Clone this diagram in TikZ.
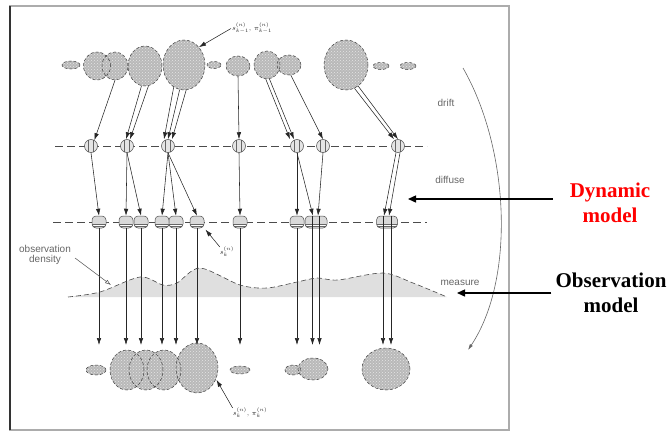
\documentclass[tikz,border=0pt]{standalone}
\usepackage{amsmath}
\usepackage{fontspec}
\setmainfont{Liberation Serif}
\newfontfamily\sansf{Liberation Sans}
\usetikzlibrary{arrows.meta,shapes.geometric,patterns}

\begin{document}
\begin{tikzpicture}[x=1pt,y=-1pt,
  arr/.style={-{Latex[length=7pt,width=4.5pt]},black!85,line width=0.55pt},
  bigarr/.style={-{Triangle[length=8pt,width=7pt]},black,line width=1.4pt},
  blob/.style={ellipse,inner sep=0pt,fill=gray!55,postaction={pattern=crosshatch dots,pattern color=white!80!gray}},
  rim/.style={ellipse,inner sep=0pt,draw=black!75,densely dashed,line width=0.5pt},
  dashrow/.style={black!70,line width=0.5pt,dash pattern=on 8pt off 4pt},
  densline/.style={black!70,line width=0.6pt,dash pattern=on 5pt off 3pt},
  driftpt/.style={circle,draw=black!70,fill=gray!20,minimum size=13pt,inner sep=0pt,line width=0.5pt,
    path picture={\foreach \dx in {-2.5,2.5}
      \draw[black!60,line width=0.4pt] ([xshift=\dx pt]path picture bounding box.north) -- ([xshift=\dx pt]path picture bounding box.south);}},
  diffpt/.style={rectangle,rounded corners=4pt,draw=black!70,fill=gray!30,minimum width=14pt,minimum height=12pt,inner sep=0pt,line width=0.5pt,
    path picture={\fill[white] ([yshift=-2pt]path picture bounding box.west) rectangle ([yshift=-4.5pt]path picture bounding box.east);
      \draw[black!60,line width=0.4pt] ([yshift=-2pt]path picture bounding box.west) -- ([yshift=-2pt]path picture bounding box.east)
        ([yshift=-4.5pt]path picture bounding box.west) -- ([yshift=-4.5pt]path picture bounding box.east);}},
  steplbl/.style={font=\sansf\fontsize{10}{10}\selectfont,text=black!60,inner sep=0pt},
  mathlbl/.style={font=\fontsize{7}{8}\selectfont,text=black!85,inner sep=0pt},
  bigtxt/.style={font=\fontsize{21}{24.5}\selectfont\bfseries,align=center,inner sep=0pt}]

  \useasboundingbox (0,0) rectangle (672,431);
  \draw[gray!65,line width=1.2pt] (10,6) rectangle (509,430);
  \draw[black!80,line width=1.8pt] (10,6) -- (10,430);

  \def\toprow{e1/71/65/9/4, c1/97/66/13.5/14, c2/115/66/13/14, c3/145/66/17/20, c4/184/65/21/25,
    e2/214/65/7/3.5, c5/238/66/12/10, c6/267/65/13/14, c7/289/65/12/10, c8/346/65/22/25,
    e3/381/66/8/3.5, e4/408/66/8/3.5}
  \def\botrow{b1/96/370/10/5, b2/127/370/17/20, b3/146/370/17/20, b4/164/370/17/20, b5/197/368/21/25,
    b6/240/370/10/4, b7/293/370/8/5, b8/313/369/15/11, b9/386/369/24/21}

  \foreach \n/\x/\y/\rx/\ry in \toprow
    \node[blob,minimum width=2*\rx,minimum height=2*\ry] (\n) at (\x,\y) {};
  \foreach \n/\x/\y/\rx/\ry in \toprow
    \node[rim,minimum width=2*\rx,minimum height=2*\ry] at (\x,\y) {};
  \foreach \n/\x/\y/\rx/\ry in \botrow
    \node[blob,minimum width=2*\rx,minimum height=2*\ry] (\n) at (\x,\y) {};
  \foreach \n/\x/\y/\rx/\ry in \botrow
    \node[rim,minimum width=2*\rx,minimum height=2*\ry] at (\x,\y) {};

  \draw[dashrow] (55,146) -- (427,146);
  \draw[dashrow] (53,222) -- (427,222);

  \foreach \n/\x in {d1/91,d2/127,d3/168,d4/239,d5/297,d6/323,d7/398}
    \node[driftpt] (\n) at (\x,146) {};
  \foreach \n/\x in {f1/99,f2/126,f3/141,f4/162,f5/176,f6/197,f7/240,f8/297}
    \node[diffpt] (\n) at (\x,222) {};
  \node[diffpt,minimum width=22pt] (f9) at (316,222) {};
  \node[diffpt,minimum width=21pt] (f10) at (387,222) {};

  \fill[gray!25] plot[smooth] coordinates {(68,297) (100,292) (140,277) (163,285) (177,283) (200,268)
    (240,285) (267,288) (297,282) (317,278) (338,280) (383,273) (413,283) (447,297)} -- cycle;

  \coordinate (botrow) at (0,345);
  \foreach \i in {1,...,8}
    \draw[arr] (f\i.south) -- (f\i |- botrow);
  \foreach \dx in {-3.5,3.5}
    \draw[arr] ([xshift=\dx]f9.north) -- ([xshift=\dx]f9.north |- botrow);
  \foreach \dx in {-4,4}
    \draw[arr] ([xshift=\dx]f10.north) -- ([xshift=\dx]f10.north |- botrow);

  \draw[densline] plot[smooth] coordinates {(68,297) (100,292) (140,277) (163,285) (177,283) (200,268)
    (240,285) (267,288) (297,282) (317,278) (338,280) (383,273) (413,283) (447,297)};

  \draw[arr] (c2.-90) -- (d1.60);
  \draw[arr] (c3.-100) -- ([xshift=-1]d2.north);
  \draw[arr] (c3.-80) -- ([xshift=3]d2.north);
  \draw[arr] (c4.-115) -- ([xshift=-4]d3.north);
  \draw[arr] (c4.-100) -- (d3.north);
  \draw[arr] (c4.-85) -- ([xshift=4]d3.north);
  \draw[arr] (c5.south) -- (d4.north);
  \draw[arr] (c6.-95) -- ([xshift=-7]d5.north);
  \draw[arr] (c6.-80) -- ([xshift=-3]d5.north);
  \draw[arr] (c7.-80) -- (d6.north);
  \draw[arr] (c8.-70) -- ([xshift=-4]d7.north);
  \draw[arr] (c8.-60) -- ([xshift=0]d7.north);

  \draw[arr] (d1.south) -- (f1.north);
  \draw[arr] (d2.south) -- (f2.north);
  \draw[arr] (d2.south) -- (f3.north);
  \draw[arr] (d3.south) -- (f4.north);
  \draw[arr] (d3.south) -- (f5.north);
  \draw[arr] (d3.south) -- (f6.north);
  \draw[arr] (d4.south) -- (f7.north);
  \draw[arr] (d5.south) -- (f8.north);
  \draw[arr] (d5.south) -- ([xshift=-3]f9.north);
  \draw[arr] (d6.south) -- ([xshift=2]f9.north);
  \draw[arr] ([xshift=-2]d7.south) -- ([xshift=-3]f10.north);
  \draw[arr] ([xshift=2]d7.south) -- ([xshift=2]f10.north);

  \node[mathlbl] (toplbl) at (252,28) {$s^{(n)}_{k-1},\,\pi^{(n)}_{k-1}$};
  \draw[arr,shorten <=1pt] (toplbl.west) -- (c4.50);
  \node[mathlbl] (midlbl) at (227,252) {$s^{(n)}_k$};
  \draw[arr,shorten >=2pt] (midlbl.north west) -- (f6.-40);
  \node[mathlbl] (botlbl) at (250,413) {$s^{(n)}_k,\,\pi^{(n)}_k$};
  \draw[arr,shorten >=1pt] (botlbl.north west) -- (b5.-30);

  \node[steplbl] (drift) at (446,103) {drift};
  \node[steplbl] (diffuse) at (450,180) {diffuse};
  \node[steplbl] (measure) at (460,283) {measure};
  \node[steplbl,align=center] (obsdens) at (45,255) {observation\\density};
  \coordinate (denspt) at (111,285);
  \draw[-{Latex[open,length=6pt,width=4pt]},black!70,line width=0.5pt,shorten <=5pt] (obsdens.east) -- (denspt);

  \coordinate (cycA) at (463,68);
  \coordinate (cycB) at (468,350);
  \draw[-{Latex[length=6pt,width=3.5pt]},black!60,line width=0.6pt] (cycA) .. controls (510,150) and (515,280) .. (cycB);

  \node[bigtxt,text=red] (dyn) at (610,203) {Dynamic\\model};
  \node[bigtxt] (obs) at (611,293) {Observation\\model};
  \coordinate (dynend) at (408,199);
  \coordinate (obsend) at (457,293);
  \draw[bigarr,shorten <=17pt] (dyn.west |- dynend) -- (dynend);
  \draw[bigarr,shorten <=4pt] (obs.west |- obsend) -- (obsend);
\end{tikzpicture}
\end{document}
